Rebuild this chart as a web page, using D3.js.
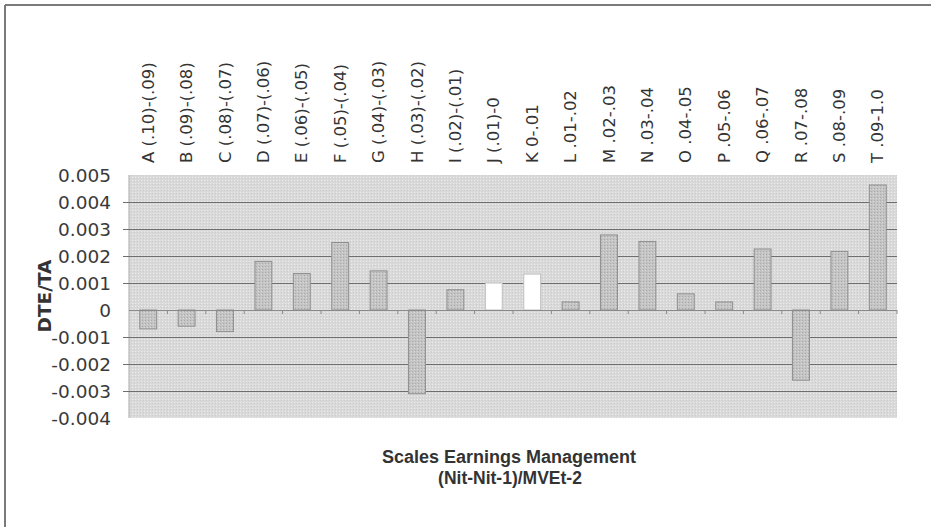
<!DOCTYPE html>
<html>
<head>
<meta charset="utf-8">
<script src="https://cdn.jsdelivr.net/npm/d3@7"></script>
<style>
  html, body { margin: 0; padding: 0; background: #fff; }
  svg { display: block; }
</style>
</head>
<body>
<div id="chart"></div>
<script>
// ---------- data ----------
const categories = [
  "A (.10)-(.09)", "B (.09)-(.08)", "C (.08)-(.07)", "D (.07)-(.06)", "E (.06)-(.05)",
  "F (.05)-(.04)", "G (.04)-(.03)", "H (.03)-(.02)", "I (.02)-(.01)", "J (.01)-0",
  "K 0-.01", "L .01-.02", "M .02-.03", "N .03-.04", "O .04-.05",
  "P .05-.06", "Q .06-.07", "R .07-.08", "S .08-.09", "T .09-1.0"
];
const values = [
  -0.0007, -0.0006, -0.0008, 0.0018, 0.00135,
  0.0025, 0.00145, -0.0031, 0.00075, 0.001,
  0.00133, 0.0003, 0.00278, 0.00254, 0.0006,
  0.0003, 0.00226, -0.0026, 0.00217, 0.00463
];
const highlighted = ["J (.01)-0", "K 0-.01"];
const yTicks = [-0.004, -0.003, -0.002, -0.001, 0, 0.001, 0.002, 0.003, 0.004, 0.005];
const yTitle = "DTE/TA";
const xTitle = ["Scales Earnings Management", "(Nit-Nit-1)/MVEt-2"];

// ---------- layout ----------
const W = 931, H = 527;
const plot = { left: 129, right: 897, top: 175, bottom: 418 };

const svg = d3.select("#chart").append("svg").attr("width", W).attr("height", H);

const defs = svg.append("defs");
const bgPat = defs.append("pattern").attr("id", "bgPat")
  .attr("width", 3).attr("height", 3).attr("patternUnits", "userSpaceOnUse");
bgPat.append("rect").attr("width", 3).attr("height", 3).attr("fill", "#d9d9d9");
bgPat.append("rect").attr("width", 1).attr("height", 1).attr("fill", "#ececec");
bgPat.append("rect").attr("x", 2).attr("y", 1).attr("width", 1).attr("height", 1).attr("fill", "#cccccc");

const barPat = defs.append("pattern").attr("id", "barPat")
  .attr("width", 3).attr("height", 3).attr("patternUnits", "userSpaceOnUse");
barPat.append("rect").attr("width", 3).attr("height", 3).attr("fill", "#c4c4c4");
barPat.append("rect").attr("width", 1).attr("height", 1).attr("fill", "#d8d8d8");
barPat.append("rect").attr("x", 1).attr("y", 2).attr("width", 1).attr("height", 1).attr("fill", "#a9a9a9");

const x = d3.scaleBand().domain(categories).range([plot.left, plot.right]).paddingInner(0.56).paddingOuter(0.28);
const xb = d3.scaleBand().domain(categories).range([plot.left, plot.right]);
const y = d3.scaleLinear().domain([-0.004, 0.005]).range([plot.bottom, plot.top]);

// frame lines
svg.append("line").attr("x1", 5).attr("x2", W).attr("y1", 5).attr("y2", 5)
  .attr("stroke", "#7a7a7a").attr("stroke-width", 2);
svg.append("line").attr("x1", 5).attr("x2", 5).attr("y1", 5).attr("y2", H)
  .attr("stroke", "#7a7a7a").attr("stroke-width", 2);

// plot background
svg.append("rect")
  .attr("x", plot.left).attr("y", plot.top)
  .attr("width", plot.right - plot.left).attr("height", plot.bottom - plot.top)
  .attr("fill", "url(#bgPat)");
svg.append("line").attr("x1", plot.left).attr("x2", plot.left)
  .attr("y1", plot.top).attr("y2", plot.bottom).attr("stroke", "#a8a8a8");

// gridlines
const fmt = v => v === 0 ? "0" : d3.format(".3f")(v).replace("\u2212", "-");
svg.append("g").selectAll("line")
  .data(yTicks.filter(t => t !== 0 && t !== 0.005 && t !== -0.004))
  .join("line")
  .attr("x1", plot.left - 6).attr("x2", plot.right)
  .attr("y1", d => Math.round(y(d)) + 0.5).attr("y2", d => Math.round(y(d)) + 0.5)
  .attr("stroke", "#6e6e6e").attr("stroke-width", 1.2);

// y axis labels
const yAxis = d3.axisLeft(y).tickValues(yTicks).tickFormat(fmt).tickSize(0).tickPadding(0);
const ya = svg.append("g").attr("transform", `translate(${plot.left - 18},0)`).call(yAxis);
ya.select(".domain").remove();
ya.selectAll("text")
  .attr("font-family", "DejaVu Sans").attr("font-size", 18.5).attr("fill", "#3a3a3a")
  .attr("dy", "0.36em");

// bars
svg.append("g").selectAll("rect")
  .data(categories.map((c, i) => ({ c, v: values[i] })))
  .join("rect")
  .attr("x", d => x(d.c))
  .attr("width", x.bandwidth())
  .attr("y", d => Math.min(y(d.v), y(0)))
  .attr("height", d => Math.abs(y(d.v) - y(0)))
  .attr("fill", d => highlighted.includes(d.c) ? "#ffffff" : "url(#barPat)")
  .attr("stroke", d => highlighted.includes(d.c) ? "#c0c0c0" : "#8f8f8f")
  .attr("stroke-width", 1);

// zero line with small ticks
svg.append("line").attr("x1", plot.left).attr("x2", plot.right)
  .attr("y1", Math.round(y(0)) + 0.5).attr("y2", Math.round(y(0)) + 0.5)
  .attr("stroke", "#8a8a8a").attr("stroke-width", 1);
svg.append("g").selectAll("line")
  .data(categories)
  .join("line")
  .attr("x1", d => xb(d) + xb.bandwidth()).attr("x2", d => xb(d) + xb.bandwidth())
  .attr("y1", y(0)).attr("y2", y(0) + 4)
  .attr("stroke", "#8a8a8a");

// category labels (top, rotated)
svg.append("g").selectAll("text")
  .data(categories)
  .join("text")
  .attr("transform", d => `translate(${xb(d) + xb.bandwidth() / 2 + 5.5},163) rotate(-90)`)
  .attr("text-anchor", "start")
  .attr("font-family", "DejaVu Sans").attr("font-size", 16.5).attr("fill", "#333")
  .text(d => d);

// y title
svg.append("text")
  .attr("transform", `translate(51,296) rotate(-90)`)
  .attr("text-anchor", "middle")
  .attr("font-family", "DejaVu Sans").attr("font-weight", "bold")
  .attr("font-size", 18.5).attr("fill", "#333")
  .text(yTitle);

// x title
svg.append("text")
  .attr("x", 509).attr("y", 463)
  .attr("text-anchor", "middle")
  .attr("font-family", "Liberation Sans").attr("font-weight", "bold")
  .attr("font-size", 18).attr("fill", "#333")
  .text(xTitle[0]);
svg.append("text")
  .attr("x", 510).attr("y", 484)
  .attr("text-anchor", "middle")
  .attr("font-family", "Liberation Sans").attr("font-weight", "bold")
  .attr("font-size", 17.5).attr("fill", "#333")
  .text(xTitle[1]);
</script>
</body>
</html>
